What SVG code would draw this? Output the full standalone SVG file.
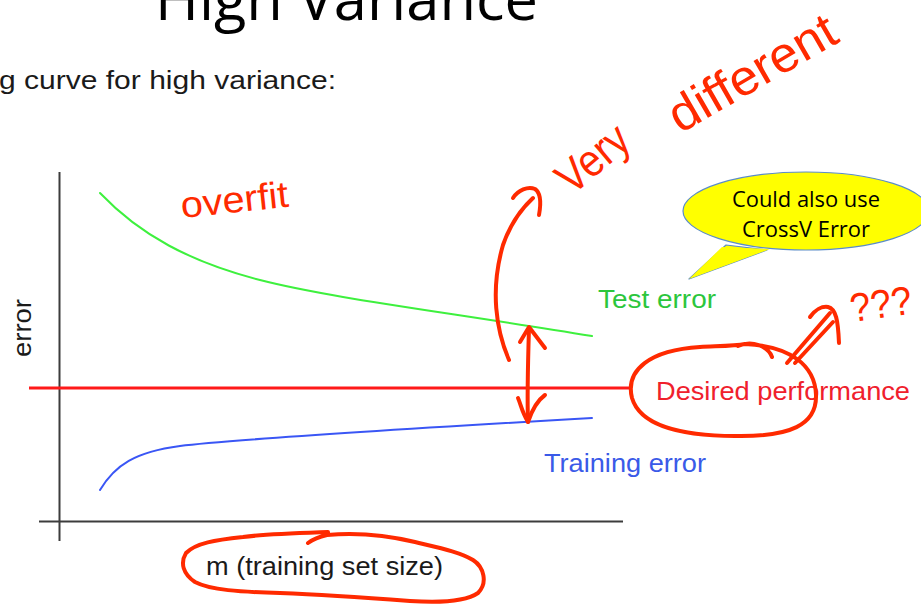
<svg xmlns="http://www.w3.org/2000/svg" width="921" height="606" viewBox="0 0 921 606">
  <defs>
    <style>
      .axis { stroke: #3c3c3c; stroke-width: 2; fill: none; }
      .curve { fill: none; stroke-width: 2; stroke-linecap: round; }
      .label { font-family: "Liberation Sans", Arial, sans-serif; font-size: 26px; }
      .ink { fill: none; stroke: #ff2a00; stroke-width: 4; stroke-linecap: round; stroke-linejoin: round; }
      .inktext { font-family: "Liberation Sans", Arial, sans-serif; fill: #ff2a00; }
      .slide { font-family: "Open Sans", "Noto Sans", sans-serif; fill: #000; }
    </style>
  </defs>
  <rect width="921" height="606" fill="#fff"/>

  <!-- slide heading, clipped by the top edge -->
  <g id="title">
    <text class="slide" x="155" y="20" font-size="59" textLength="383" lengthAdjust="spacingAndGlyphs">High Variance</text>
  </g>
  <g id="subtitle">
    <text x="-1" y="89" font-family="Liberation Sans, Arial, sans-serif" font-size="26" fill="#1a1a1a" textLength="337" lengthAdjust="spacingAndGlyphs">g curve for high variance:</text>
  </g>

  <!-- plot axes -->
  <g id="axes">
    <path class="axis" d="M59.5,172 V541"/>
    <path class="axis" d="M39,521.5 H623"/>
    <text class="label" fill="#1a1a1a" transform="translate(31,328) rotate(-90)" text-anchor="middle" textLength="58" lengthAdjust="spacingAndGlyphs">error</text>
    <text class="label" x="206" y="575" fill="#1a1a1a" textLength="237" lengthAdjust="spacingAndGlyphs">m (training set size)</text>
  </g>

  <!-- learning curves -->
  <g id="test-error">
    <path class="curve" stroke="#3ef03e" d="M100,193 C140,235 190,262 260,280 S440,311 592,336"/>
    <text class="label" x="598" y="308" fill="#2cc63c" textLength="118" lengthAdjust="spacingAndGlyphs">Test error</text>
  </g>
  <g id="training-error">
    <path class="curve" stroke="#3a56f5" d="M100,490 C115,465 135,452 180,446 S420,428 592,418"/>
    <text class="label" x="544" y="472" fill="#3a5ae8" textLength="162" lengthAdjust="spacingAndGlyphs">Training error</text>
  </g>
  <g id="desired-performance">
    <path d="M29,388 H632" stroke="#ff1a1a" stroke-width="3" fill="none"/>
    <text class="label" x="656" y="400" fill="#f0202c" textLength="254" lengthAdjust="spacingAndGlyphs">Desired performance</text>
  </g>

  <!-- speech bubble -->
  <g id="callout">
    <path d="M726,245 L689,279 L767,250 Z" fill="#ffff00" stroke="#5b8cc8" stroke-width="1.2" stroke-linejoin="round"/>
    <ellipse cx="806" cy="211" rx="123" ry="39" fill="#ffff00" stroke="#5b8cc8" stroke-width="1.2"/>
    <path d="M722,247 L689,279 L770,249" fill="#ffff00" stroke="none"/>
    <text class="slide" x="806" y="207" font-size="21" text-anchor="middle" textLength="148" lengthAdjust="spacingAndGlyphs">Could also use</text>
    <text class="slide" x="806" y="237" font-size="21" text-anchor="middle" textLength="128" lengthAdjust="spacingAndGlyphs">CrossV Error</text>
  </g>

  <!-- pen annotations -->
  <g id="note-overfit">
    <text class="inktext" font-size="37" transform="translate(182,218) rotate(-6)" textLength="108" lengthAdjust="spacingAndGlyphs">overfit</text>
  </g>
  <g id="note-very-different">
    <text class="inktext" font-size="46" transform="translate(572,196) rotate(-40)" textLength="80" lengthAdjust="spacingAndGlyphs">Very</text>
    <text class="inktext" font-size="50" transform="translate(680,134) rotate(-30)" textLength="186" lengthAdjust="spacingAndGlyphs">different</text>
  </g>
  <g id="note-question">
    <text class="inktext" font-size="40" transform="translate(852,322) rotate(-8)" textLength="62" lengthAdjust="spacingAndGlyphs">???</text>
  </g>

  <g id="connectors">
    <!-- curved pointer up to the note -->
    <path class="ink" d="M509,360 C496,330 490,290 503,245 C510,225 520,210 533,198"/>
    <path class="ink" d="M513,198 C518,190 528,186 535,189 C541,193 541,204 539,215"/>
    <!-- gap between the curves -->
    <path class="ink" d="M529,328 C528,360 527,395 528,422"/>
    <path class="ink" d="M520,342 L529,327 L545,348"/>
    <path class="ink" d="M518,398 C521,405 522,412 528,422 C532,410 538,400 545,395"/>
    <!-- ring round the desired level -->
    <path class="ink" d="M772,357 C768,346 752,340 738,346 M745,344 C790,346 815,365 816,395 C817,425 790,437 735,436 C680,436 640,425 632,398 C625,370 650,350 700,347 C720,346 735,346 745,344"/>
    <!-- double arrow to the question marks -->
    <path class="ink" d="M787,363 L830,313 M795,363 L833,322"/>
    <path class="ink" d="M810,317 C815,310 822,306 828,307 C836,309 838,320 839,343"/>
    <!-- ring round the axis title -->
    <path class="ink" d="M328,532 C300,533 265,534 243,537 C215,540 196,543 186,553 C180,563 183,574 195,582 C210,590 240,592 280,593 C330,595 370,598 410,601 C440,603 465,602 478,593 C488,583 484,567 473,560 C460,552 440,548 415,542 C390,536 360,532 327,535 C318,537 312,540 308,543"/>
  </g>
</svg>
